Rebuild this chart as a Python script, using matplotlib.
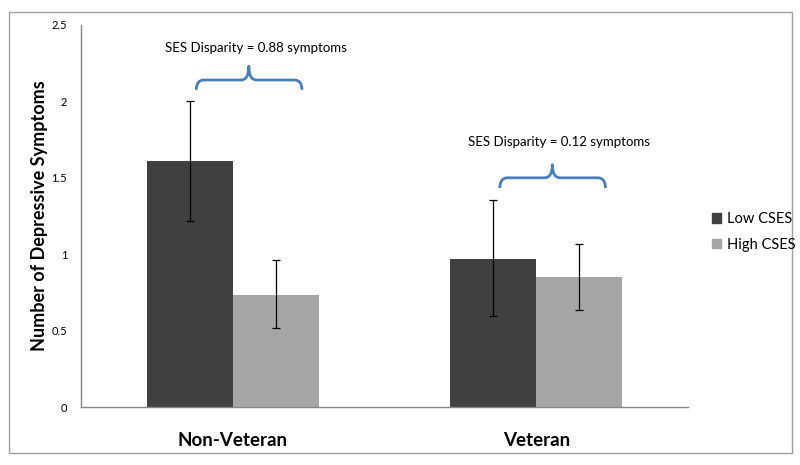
import matplotlib.pyplot as plt
from matplotlib.path import Path
from matplotlib.patches import PathPatch, Rectangle, Patch
import numpy as np

plt.rcParams['font.family'] = ['Lato', 'DejaVu Sans']

groups = ['Non-Veteran', 'Veteran']
series = ['Low CSES', 'High CSES']
low_cses = [1.61, 0.97]
high_cses = [0.73, 0.85]
low_err_lo = [1.22, 0.595]
low_err_hi = [2.00, 1.353]
high_err_lo = [0.514, 0.634]
high_err_hi = [0.963, 1.065]
disparity = ['SES Disparity = 0.88 symptoms', 'SES Disparity = 0.12 symptoms']
# brace levels (tip, bar, peak, text) in data units
brace_y = [(2.076, 2.14, 2.23, 2.35), (1.433, 1.50, 1.586, 1.734)]

colors = ['#404040', '#a6a6a6']
width = 0.283

fig = plt.figure(figsize=(8, 4.65), dpi=100)
ax = fig.add_axes([81/800, 1 - 407/465, 607/800, 382/465])

x = np.arange(len(groups))
ax.bar(x - width/2, low_cses, width, color=colors[0], label=series[0])
ax.bar(x + width/2, high_cses, width, color=colors[1], label=series[1])

low_yerr = [np.array(low_cses) - np.array(low_err_lo), np.array(low_err_hi) - np.array(low_cses)]
high_yerr = [np.array(high_cses) - np.array(high_err_lo), np.array(high_err_hi) - np.array(high_cses)]
ax.errorbar(x - width/2, low_cses, yerr=low_yerr, fmt='none', ecolor='black', elinewidth=0.9, capsize=3, capthick=0.9)
ax.errorbar(x + width/2, high_cses, yerr=high_yerr, fmt='none', ecolor='black', elinewidth=0.9, capsize=3, capthick=0.9)

def brace(ax, x0, x1, xc, ytip, ybar, ypeak):
    r = 0.025
    verts = [(x0, ytip), (x0, ybar), (x0 + r, ybar),
             (xc - r, ybar), (xc, ybar), (xc, ypeak),
             (xc, ybar), (xc + r, ybar),
             (x1 - r, ybar), (x1, ybar), (x1, ytip)]
    codes = [Path.MOVETO, Path.CURVE3, Path.CURVE3,
             Path.LINETO, Path.CURVE3, Path.CURVE3,
             Path.CURVE3, Path.CURVE3,
             Path.LINETO, Path.CURVE3, Path.CURVE3]
    ax.add_patch(PathPatch(Path(verts, codes), fill=False, edgecolor='#4a7ebb',
                           linewidth=2, capstyle='butt', joinstyle='round'))

for i in range(len(groups)):
    yt, yb, yp, ytext = brace_y[i]
    brace(ax, i - 0.12, i + 0.228, i + 0.053, yt, yb, yp)
    ax.text(i + 0.075, ytext, disparity[i], ha='center', va='center', fontsize=9.5)

ax.set_xlim(-0.5, 1.5)
ax.set_ylim(0, 2.5)
ax.set_yticks([0, 0.5, 1, 1.5, 2, 2.5])
ax.set_yticklabels(['0', '0.5', '1', '1.5', '2', '2.5'], fontsize=8)
ax.set_xticks(x)
ax.set_xticklabels(groups, fontsize=13.5, fontweight='bold')
ax.tick_params(axis='y', length=0, pad=10)
ax.tick_params(axis='x', length=0, pad=18)
for s in ['top', 'right']:
    ax.spines[s].set_visible(False)
for s in ['left', 'bottom']:
    ax.spines[s].set_color('#868686')
    ax.spines[s].set_linewidth(1)
ax.set_ylabel('Number of Depressive Symptoms', fontsize=13, fontweight='bold')
ax.yaxis.set_label_coords(-(81 - 48) / 607, 0.5)

handles = [Patch(color=colors[0]), Patch(color=colors[1])]
fig.legend(handles, series, loc='center left', bbox_to_anchor=(699/800, 1 - 232/465),
           frameon=False, fontsize=10.5, handlelength=0.6, handleheight=0.6,
           handletextpad=0.4, labelspacing=0.8)

fig.add_artist(Rectangle((9/800, 1 - 453/465), 783/800, 441/465, transform=fig.transFigure,
                         fill=False, edgecolor='#a0a0a0', linewidth=1))

fig.savefig('out.png', dpi=100)
